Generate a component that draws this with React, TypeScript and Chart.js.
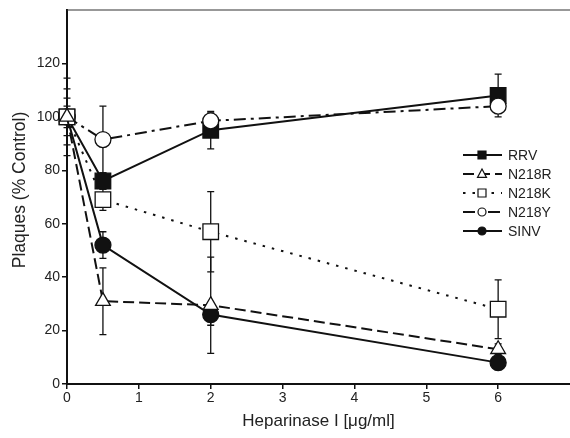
import React, { useEffect, useRef } from 'react';
import { Chart, registerables } from 'chart.js';
Chart.register(...registerables);

const doses = [0, 0.5, 2, 6];
const seriesNames = ['RRV', 'N218R', 'N218K', 'N218Y', 'SINV'];
const rrv = [100, 76, 95, 108];
const n218r = [100, 31, 29.5, 13];
const n218k = [100, 69, 57, 28];
const n218y = [100, 91.5, 98.5, 104];
const sinv = [100, 52, 26, 8];
const errRrv = [14.5, 3, 7, 8];
const errN218r = [10.5, 12.5, 18, 2];
const errN218k = [7, 4, 15, 11];
const errN218y = [2, 12.5, 3, 1];
const errSinv = [4, 5, 4, 2];
const xTicks = [0, 1, 2, 3, 4, 5, 6];
const yTicks = [0, 20, 40, 60, 80, 100, 120];
const xTitle = 'Heparinase I [μg/ml]';
const yTitle = 'Plaques (% Control)';

const FONT = "'Liberation Sans', Arial, Helvetica, sans-serif";
const INK = '#111';

const errorBarsPlugin = {
  id: 'errorBars',
  beforeDatasetsDraw(chart: any) {
    const ctx = chart.ctx;
    const ys = chart.scales.y;
    ctx.save();
    ctx.strokeStyle = INK;
    ctx.lineWidth = 1.3;
    ctx.setLineDash([]);
    chart.data.datasets.forEach((ds: any, i: number) => {
      const meta = chart.getDatasetMeta(i);
      meta.data.forEach((pt: any, j: number) => {
        const v = ds.data[j].y;
        const e = ds.errors[j];
        if (!e) return;
        const x = pt.x;
        const yt = ys.getPixelForValue(v + e);
        const yb = ys.getPixelForValue(v - e);
        ctx.beginPath();
        ctx.moveTo(x, yt);
        ctx.lineTo(x, yb);
        ctx.moveTo(x - 3.5, yt);
        ctx.lineTo(x + 3.5, yt);
        ctx.moveTo(x - 3.5, yb);
        ctx.lineTo(x + 3.5, yb);
        ctx.stroke();
      });
    });
    ctx.restore();
  },
};

const framePlugin = {
  id: 'frameTop',
  afterDraw(chart: any) {
    const { ctx, chartArea } = chart;
    ctx.save();
    ctx.strokeStyle = '#333';
    ctx.lineWidth = 1.2;
    ctx.beginPath();
    ctx.moveTo(chartArea.left, chartArea.top);
    ctx.lineTo(chartArea.right, chartArea.top);
    ctx.stroke();
    // y axis title
    ctx.fillStyle = '#222';
    ctx.font = `17.5px ${FONT}`;
    ctx.textAlign = 'center';
    ctx.textBaseline = 'middle';
    ctx.translate(20, 190);
    ctx.rotate(-Math.PI / 2);
    ctx.fillText(yTitle, 0, 0);
    ctx.restore();
  },
};

function drawMarker(ctx: any, style: string, fill: string, x: number, y: number, r: number) {
  ctx.beginPath();
  if (style === 'rect') {
    ctx.rect(x - r, y - r, 2 * r, 2 * r);
  } else if (style === 'triangle') {
    ctx.moveTo(x, y - r * 1.1);
    ctx.lineTo(x + r, y + r * 0.75);
    ctx.lineTo(x - r, y + r * 0.75);
    ctx.closePath();
  } else {
    ctx.arc(x, y, r, 0, Math.PI * 2);
  }
  ctx.fillStyle = fill;
  ctx.fill();
  ctx.stroke();
}

const legendPlugin = {
  id: 'customLegend',
  afterDatasetsDraw(chart: any) {
    const ctx = chart.ctx;
    ctx.save();
    chart.data.datasets.forEach((ds: any, i: number) => {
      const y = 155 + i * 19;
      ctx.strokeStyle = INK;
      ctx.lineWidth = 2;
      ctx.setLineDash(ds.borderDash || []);
      ctx.beginPath();
      ctx.moveTo(463, y);
      ctx.lineTo(502, y);
      ctx.stroke();
      ctx.setLineDash([]);
      ctx.lineWidth = 1.2;
      const r = ds.pointStyle === 'circle' ? 4 : ds.pointStyle === 'triangle' ? 4.5 : 4;
      drawMarker(ctx, ds.pointStyle, ds.pointBackgroundColor, 482, y, r);
      ctx.fillStyle = '#222';
      ctx.font = `14px ${FONT}`;
      ctx.textAlign = 'left';
      ctx.textBaseline = 'middle';
      ctx.fillText(ds.label, 508, y + 1);
    });
    ctx.restore();
  },
};

function mk(label: string, vals: number[], errs: number[], dash: number[], style: string, fill: string, radius: number, order: number) {
  return {
    label,
    data: doses.map((d, i) => ({ x: d, y: vals[i] })),
    errors: errs,
    borderColor: INK,
    borderWidth: 2,
    borderDash: dash,
    pointStyle: style,
    pointRadius: radius,
    pointBackgroundColor: fill,
    pointBorderColor: INK,
    pointBorderWidth: 1.3,
    tension: 0,
    clip: false,
    order,
  };
}

export default function App() {
  const ref = useRef<HTMLCanvasElement>(null);
  useEffect(() => {
    if (!ref.current) return;
    const tickFont = { family: FONT, size: 14 };
    const chart = new Chart(ref.current, {
      type: 'line',
      data: {
        datasets: [
          mk(seriesNames[0], rrv, errRrv, [], 'rect', INK, 11, 1),
          mk(seriesNames[1], n218r, errN218r, [11, 5], 'triangle', '#fff', 8.5, 0),
          mk(seriesNames[2], n218k, errN218k, [2.5, 7], 'rect', '#fff', 11, 0),
          mk(seriesNames[3], n218y, errN218y, [12, 5, 3, 5], 'circle', '#fff', 8, 0),
          mk(seriesNames[4], sinv, errSinv, [], 'circle', INK, 8, 0),
        ] as any,
      },
      options: {
        animation: false,
        responsive: false,
        events: [],
        layout: { autoPadding: false, padding: { top: 10, left: 0, right: 0, bottom: 0 } },
        plugins: { legend: { display: false }, tooltip: { enabled: false } },
        scales: {
          x: {
            type: 'linear',
            min: 0,
            max: 7,
            afterBuildTicks: (s: any) => { s.ticks = xTicks.map((v) => ({ value: v })); },
            afterFit: (s: any) => { s.height = 54; s.paddingLeft = 0; s.paddingRight = 0; },
            grid: { drawOnChartArea: false, tickLength: 5, color: INK, lineWidth: 1.5 },
            border: { color: INK, width: 2 },
            ticks: { font: tickFont, color: '#222', padding: 1, maxRotation: 0 },
            title: {
              display: true,
              text: xTitle,
              font: { family: FONT, size: 17 },
              color: '#222',
              padding: { top: 6, bottom: 6 },
            },
          },
          y: {
            min: 0,
            max: 140,
            afterBuildTicks: (s: any) => { s.ticks = yTicks.map((v) => ({ value: v })); },
            afterFit: (s: any) => { s.width = 67; s.paddingTop = 0; s.paddingBottom = 0; },
            grid: { drawOnChartArea: false, tickLength: 5, color: INK, lineWidth: 1.5 },
            border: { color: INK, width: 2 },
            ticks: { font: tickFont, color: '#222', padding: 2 },
            title: { display: false },
          },
        },
      } as any,
      plugins: [errorBarsPlugin, framePlugin, legendPlugin],
    });
    return () => chart.destroy();
  }, []);
  return (
    <div style={{ position: 'fixed', left: 0, top: 0, width: 570, height: 438, background: '#fff' }}>
      <canvas ref={ref} width={570} height={438} style={{ display: 'block' }} />
    </div>
  );
}
